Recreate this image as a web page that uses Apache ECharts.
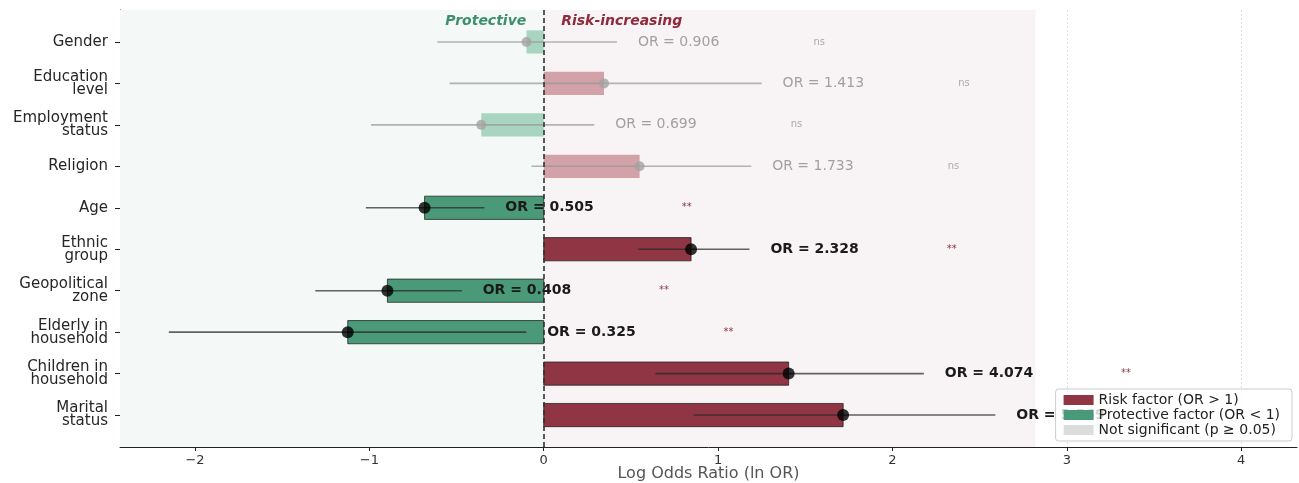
<!DOCTYPE html>
<html>
<head>
<meta charset="utf-8">
<script src="https://cdn.jsdelivr.net/npm/echarts@6/dist/echarts.min.js"></script>
<style>
html,body{margin:0;padding:0;background:#fff;}
#chart{width:1299px;height:483px;}
</style>
</head>
<body>
<div id="chart"></div>
<script>
// ---- data ----
const categories = ['Gender', 'Education\nlevel', 'Employment\nstatus', 'Religion', 'Age',
  'Ethnic\ngroup', 'Geopolitical\nzone', 'Elderly in\nhousehold', 'Children in\nhousehold', 'Marital\nstatus'];
const oddsRatio = [0.906, 1.413, 0.699, 1.733, 0.505, 2.328, 0.408, 0.325, 4.074, 5.569];
const ciLowLog  = [-0.61, -0.54, -0.99, -0.07, -1.02, 0.54, -1.31, -2.15, 0.64, 0.86];
const ciHighLog = [0.42, 1.25, 0.29, 1.19, -0.34, 1.18, -0.47, -0.10, 2.18, 2.59];
const significant = [false, false, false, false, true, true, true, true, true, true];
const sigMarks = ['ns', 'ns', 'ns', 'ns', '**', '**', '**', '**', '**', '**'];
const xTicks = [-2, -1, 0, 1, 2, 3, 4];
const headerLabels = ['Protective', 'Risk-increasing'];
const legendNames = ['Risk factor (OR > 1)', 'Protective factor (OR < 1)', 'Not significant (p \u2265 0.05)'];

// ---- styling ----
const FONT = 'DejaVu Sans';
const C_RISK = '#8f3544', C_PROT = '#4a9a7a';
const C_RISK_NS = '#d3a1a8', C_PROT_NS = '#a8d4c1';
const C_NS_LEGEND = '#dcdcdc';
const BAR_H = 0.56;
const X_MIN = -2.43, X_MAX = 4.32, RISK_SPAN_END = 2.82;

const logOR = oddsRatio.map(v => Math.log(v));
const yIdx = categories.map((_, i) => i);

function barRender(params, api) {
  const v = api.value(0), i = api.value(1), k = api.value(2);
  const p0 = api.coord([0, i]), p1 = api.coord([v, i]);
  const h = api.size([0, BAR_H])[1];
  const sig = significant[k];
  const fill = sig ? (v > 0 ? C_RISK : C_PROT) : (v > 0 ? C_RISK_NS : C_PROT_NS);
  return {
    type: 'rect',
    shape: {x: Math.min(p0[0], p1[0]), y: p0[1] - h / 2, width: Math.abs(p1[0] - p0[0]), height: h},
    style: {fill: fill, stroke: sig ? 'rgba(30,30,30,0.75)' : null, lineWidth: sig ? 1 : 0}
  };
}
function barData(filter) {
  const out = [];
  yIdx.forEach(i => { if (filter(i)) out.push([logOR[i], i, i]); });
  return out;
}

const ciData = yIdx.map(i => [ciLowLog[i], i, ciHighLog[i], i]);
const labelData = yIdx.map(i => [ciHighLog[i], i, i]);

const option = {
  animation: false,
  backgroundColor: '#ffffff',
  grid: {left: 120, right: 2, top: 10, bottom: 36, containLabel: false, outerBoundsMode: 'none'},
  xAxis: {
    type: 'value', min: X_MIN, max: X_MAX,
    name: 'Log Odds Ratio (ln OR)', nameLocation: 'middle', nameGap: 19, nameMoveOverlap: false,
    nameTextStyle: {fontFamily: FONT, fontSize: 16, color: '#555'},
    axisLine: {show: true, onZero: false, lineStyle: {color: '#222', width: 1}},
    axisTick: {show: true, length: 4, customValues: xTicks, lineStyle: {color: '#222'}},
    axisLabel: {customValues: xTicks, fontFamily: FONT, fontSize: 13, color: '#333', margin: 7,
      formatter: v => (v < 0 ? '\u2212' + Math.abs(v) : String(v))},
    splitLine: {show: true, lineStyle: {color: '#dddddd', type: [2, 2], width: 1}}
  },
  yAxis: {
    type: 'value', inverse: true, min: -0.77, max: 9.77,
    axisLine: {show: true, onZero: false, lineStyle: {color: '#222', width: 1}},
    axisTick: {show: true, length: 5, customValues: yIdx, lineStyle: {color: '#222'}},
    axisLabel: {customValues: yIdx, fontFamily: FONT, fontSize: 15, lineHeight: 13, color: '#262626', margin: 12,
      align: 'right', formatter: v => categories[Math.round(v)] || ''},
    splitLine: {show: false}
  },
  legend: {
    orient: 'vertical', right: 7, bottom: 42,
    selectedMode: false,
    itemWidth: 30, itemHeight: 10, itemGap: 1,
    padding: [4, 12, 4, 8],
    backgroundColor: 'rgba(255,255,255,0.82)', borderColor: '#cccccc', borderWidth: 1, borderRadius: 3,
    textStyle: {fontFamily: FONT, fontSize: 14, color: '#222'},
    data: [
      {name: legendNames[0], icon: 'rect', itemStyle: {color: C_RISK}},
      {name: legendNames[1], icon: 'rect', itemStyle: {color: C_PROT}},
      {name: legendNames[2], icon: 'rect', itemStyle: {color: C_NS_LEGEND}}
    ],
    z: 20
  },
  series: [
    {
      name: 'bg', type: 'custom', z: -5, silent: true,
      renderItem: () => null, data: [],
      markArea: {
        silent: true,
        data: [
          [{xAxis: X_MIN, itemStyle: {color: '#f4f8f7'}}, {xAxis: 0}],
          [{xAxis: 0, itemStyle: {color: '#f8f4f5'}}, {xAxis: RISK_SPAN_END}]
        ]
      }
    },
    {name: legendNames[0], type: 'custom', z: 2, renderItem: barRender, encode: {x: 0, y: 1},
      itemStyle: {color: C_RISK},
      data: barData(i => significant[i] && logOR[i] > 0)},
    {name: legendNames[1], type: 'custom', z: 2, renderItem: barRender, encode: {x: 0, y: 1},
      itemStyle: {color: C_PROT},
      data: barData(i => significant[i] && logOR[i] < 0)},
    {name: legendNames[2], type: 'custom', z: 2, renderItem: barRender, encode: {x: 0, y: 1},
      itemStyle: {color: C_NS_LEGEND},
      data: barData(i => !significant[i])},
    {
      name: 'ci', type: 'custom', z: 3, encode: {x: [0, 2], y: 1},
      renderItem: (params, api) => {
        const i = api.value(1);
        const a = api.coord([api.value(0), i]), b = api.coord([api.value(2), i]);
        const sig = significant[i];
        return {type: 'line', shape: {x1: a[0], y1: a[1], x2: b[0], y2: b[1]},
          style: {stroke: sig ? 'rgba(40,40,40,0.72)' : 'rgba(150,150,150,0.7)', lineWidth: 1.6}};
      },
      data: ciData
    },
    {
      name: 'points', type: 'scatter', z: 4, symbol: 'circle',
      data: yIdx.map(i => ({value: [logOR[i], i],
        symbolSize: significant[i] ? 12 : 10,
        itemStyle: {color: significant[i] ? '#000' : '#a3a3a3'}}))
    },
    {
      name: 'orLabels', type: 'custom', z: 5, encode: {x: 0, y: 1},
      renderItem: (params, api) => {
        const k = api.value(2);
        const p = api.coord([api.value(0) + 0.12, api.value(1)]);
        const q = api.coord([api.value(0) + 1.16, api.value(1)]);
        const sig = significant[k];
        return {type: 'group', children: [
          {type: 'text', x: p[0], y: p[1], style: {
            text: 'OR = ' + oddsRatio[k].toFixed(3), fontFamily: FONT, fontSize: 14,
            fontWeight: sig ? 'bold' : 'normal', fill: sig ? '#1a1a1a' : '#a0a0a0',
            align: 'left', verticalAlign: 'middle'}},
          {type: 'text', x: q[0], y: p[1], style: {
            text: sigMarks[k], fontFamily: FONT, fontSize: 10,
            fill: sig ? '#8f3544' : '#aaaaaa', align: 'center', verticalAlign: 'middle'}}
        ]};
      },
      data: labelData
    },
    {
      name: 'headers', type: 'custom', z: 5, encode: {x: 0, y: 1},
      renderItem: (params, api) => {
        const k = api.value(2);
        const p = api.coord([api.value(0), api.value(1)]);
        return {type: 'text', x: p[0], y: p[1], style: {
          text: headerLabels[k], fontFamily: FONT, fontSize: 14, fontWeight: 'bold', fontStyle: 'italic',
          fill: k === 0 ? '#3d8f6c' : '#8f2a3c', align: k === 0 ? 'right' : 'left', verticalAlign: 'middle'}};
      },
      data: [[-0.1, -0.5, 0], [0.1, -0.5, 1]]
    },
    {
      name: 'zeroLine', type: 'custom', z: 6, renderItem: () => null, data: [],
      markLine: {silent: true, symbol: ['none', 'none'], label: {show: false},
        lineStyle: {color: '#333', type: [5, 3], width: 1.6},
        data: [{xAxis: 0}]}
    }
  ]
};

const chart = echarts.init(document.getElementById('chart'), null, {renderer: 'canvas'});
chart.setOption(option);
</script>
</body>
</html>
